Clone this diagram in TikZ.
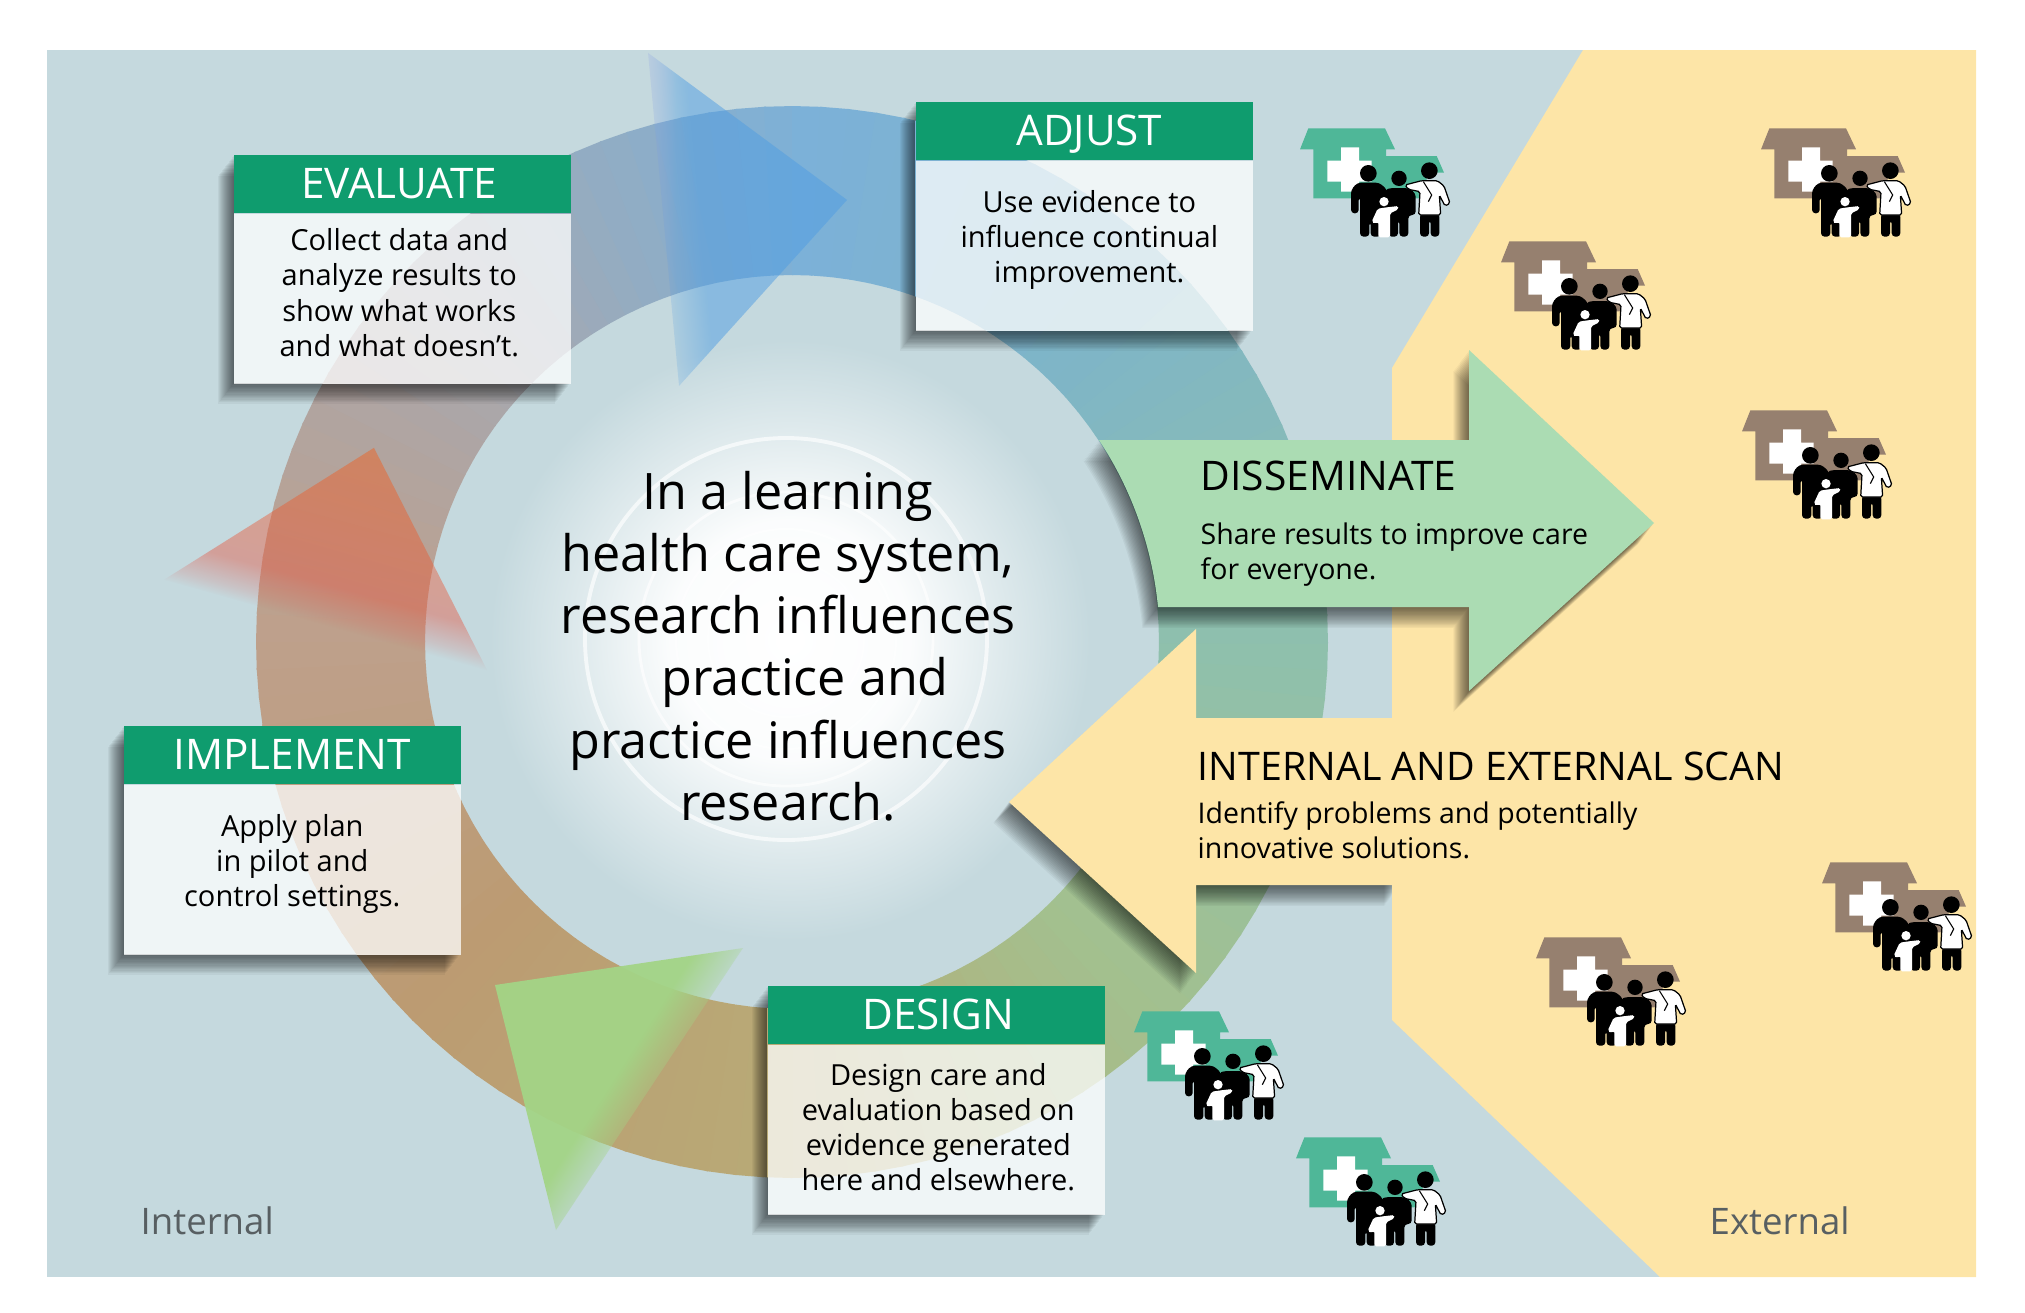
\documentclass[tikz,border=0pt]{standalone}
\usepackage{fontspec}
\setmainfont{Open Sans}
\usetikzlibrary{positioning,fadings}

\definecolor{lhsBack}{HTML}{C5D9DE}
\definecolor{lhsYellow}{HTML}{FDE5A7}
\definecolor{lhsMint}{HTML}{ABDCB3}
\definecolor{lhsHead}{HTML}{0F9C6E}
\definecolor{lhsTeal}{HTML}{4FB798}
\definecolor{lhsBrown}{HTML}{96806F}
\definecolor{lhsGrey}{HTML}{585F62}
\definecolor{lhsBlue}{HTML}{4F9DE2}
\definecolor{lhsPeri}{HTML}{8C9EE6}
\definecolor{lhsOrange}{HTML}{F85A10}
\definecolor{lhsPink}{HTML}{D85060}
\definecolor{lhsLeaf}{HTML}{A3D486}
\definecolor{ringE}{HTML}{8FC0AC}
\definecolor{ringSE}{HTML}{A3C08E}
\definecolor{ringS}{HTML}{B8AA76}
\definecolor{ringSW}{HTML}{BC9B72}
\definecolor{ringW}{HTML}{BEA08C}
\definecolor{ringNW}{HTML}{A6A8B0}
\definecolor{ringN}{HTML}{7CB1D8}
\definecolor{ringNE}{HTML}{7FB5C6}

% soft triangle edges, white is solid and black is clear
\pgfdeclarehorizontalshading{blueEdgeShade}{300bp}{color(0bp)=(black); color(125bp)=(black); color(129bp)=(black!80); color(138bp)=(black!50); color(300bp)=(black!50)}
\pgfdeclarehorizontalshading{orangeEdgeShade}{300bp}{color(0bp)=(black); color(136.5bp)=(black); color(139bp)=(black!85); color(145bp)=(black!57); color(300bp)=(black!57)}
\pgfdeclarehorizontalshading{greenEdgeShade}{300bp}{color(0bp)=(black!5); color(148bp)=(black!5); color(155bp)=(black!65); color(157bp)=(black); color(300bp)=(black)}
\pgfdeclarefading{blueEdge}{\pgfuseshading{blueEdgeShade}}
\pgfdeclarefading{orangeEdge}{\pgfuseshading{orangeEdgeShade}}
\pgfdeclarefading{greenEdge}{\pgfuseshading{greenEdgeShade}}
\pgfdeclarehorizontalshading{lhsBlueTri}{100bp}{color(0bp)=(lhsPeri); color(25bp)=(lhsPeri); color(32bp)=(lhsBlue); color(100bp)=(lhsBlue)}
\pgfdeclareradialshading{lhsGlow}{\pgfpoint{0bp}{0bp}}{color(0bp)=(white); color(10bp)=(white!93!lhsBack); color(17.5bp)=(white!45!lhsBack); color(25bp)=(lhsBack); color(50bp)=(lhsBack)}

\newcommand{\lhsRing}{%
\begin{scope}[shift={(792,642)}]
\foreach \colA/\colB [count=\k from 0] in {ringE/ringSE,ringSE/ringS,ringS/ringSW,ringSW/ringW,ringW/ringNW,ringNW/ringN,ringN/ringNE,ringNE/ringE}{
    \foreach \j in {0,3,...,42}{
        \pgfmathsetmacro{\angA}{\k*45+\j}
        \pgfmathsetmacro{\angB}{\angA+3.2}
        \pgfmathsetmacro{\mixVal}{100-\j*100/45}
        \fill[\colA!\mixVal!\colB] (\angA:536) -- (\angB:536) -- (\angB:367) -- (\angA:367) -- cycle;
    }
}
\end{scope}}

\begin{document}
\begin{tikzpicture}[
    x=0.01cm, y=-0.01cm,
    lhsShadowStep/.style={preaction={fill=black, fill opacity=0.042, transform canvas={xshift=-0.75*#1mm, yshift=-#1mm}}},
    lhsShadow/.style={lhsShadowStep/.list={0.13,0.26,0.39,0.52,0.65,0.78,0.91,1.04,1.17,1.3,1.43,1.56,1.69,1.82,1.95,2.08}},
    lhsBoxBack/.style={anchor=north west, fill=lhsBack, minimum width=3.37cm, minimum height=2.28cm, inner sep=0pt, lhsShadow},
    lhsBoxHead/.style={anchor=north west, fill=lhsHead, text=white, minimum width=3.37cm, minimum height=0.58cm, inner sep=0pt, text height=8.5pt, text depth=0pt, font=\fontsize{12}{14}\selectfont},
    lhsBoxBody/.style={fill=white, fill opacity=0.74, minimum width=3.37cm, minimum height=1.70cm, inner sep=0pt},
    lhsBoxText/.style={inner sep=0pt, align=center, font=\fontsize{8.25}{10}\selectfont},
    lhsTitle/.style={anchor=west, inner sep=0pt, font=\fontsize{11.6}{13}\selectfont},
    lhsText/.style={anchor=west, inner sep=0pt, align=left, font=\fontsize{8.1}{10}\selectfont},
    lhsSide/.style={anchor=west, inner sep=0pt, text=lhsGrey, font=\fontsize{10.4}{12}\selectfont},
    lhsCircle/.style={draw=white, line width=#1},
    pics/careGroup/.style={code={
        \begin{scope}[scale=1/3]
        \fill[#1] (85,55) -- (315,55) -- (345,118) -- (318,118) -- (318,138) -- (470,138) -- (492,188) -- (440,188) -- (440,265) -- (100,265) -- (100,118) -- (60,118) -- cycle;
        \fill[white] (183,112) -- (237,112) -- (237,152) -- (275,152) -- (275,215) -- (237,215) -- (237,245) -- (183,245) -- (183,215) -- (142,215) -- (142,152) -- (183,152) -- cycle;
        % adult on the left
        \fill[black] (265,190) circle[radius=25];
        \fill[black, rounded corners=1pt] (213,310) -- (213,240) -- (232,218) -- (298,218) -- (322,240) -- (322,310) -- (302,310) -- (302,380) -- (272,380) -- (272,335) -- (268,335) -- (268,380) -- (240,380) -- (240,260) -- (236,260) -- (236,310) -- cycle;
        % adult in the middle
        \fill[black] (357,205) circle[radius=23];
        \fill[black, rounded corners=1pt] (315,240) -- (330,234) -- (385,234) -- (407,250) -- (407,315) -- (385,315) -- (385,380) -- (358,380) -- (358,330) -- (354,330) -- (354,380) -- (325,380) -- (325,320) -- (315,320) -- cycle;
        % child
        \fill[white] (312,275) circle[radius=14];
        \fill[white, rounded corners=0.5pt] (293,296) -- (320,292) -- (355,288) -- (355,298) -- (330,310) -- (330,382) -- (295,382) -- (295,335) -- (285,342) -- (275,335) -- cycle;
        % doctor
        \fill[black] (448,182) circle[radius=25];
        \fill[black, rounded corners=1pt] (420,310) -- (478,310) -- (478,380) -- (452,380) -- (452,330) -- (447,330) -- (447,380) -- (420,380) -- cycle;
        \filldraw[fill=white, draw=black, line width=0.35pt, rounded corners=0.5pt] (375,225) -- (425,212) -- (472,212) -- (492,228) -- (510,280) -- (495,288) -- (478,255) -- (482,315) -- (416,315) -- (420,245) -- (385,238) -- cycle;
        \draw[black, line width=0.3pt] (430,215) -- (455,255) -- (445,275);
        \end{scope}
    }}
]
\useasboundingbox (0,0) rectangle (2025,1312);
\fill[lhsBack] (47,50) rectangle (1976,1277);
\lhsRing
\shade[shading=lhsGlow] (790,640) circle[radius=300];
\foreach \r/\w in {201/1.1pt,147/0.8pt,110/0.6pt,78/0.5pt} {
    \draw[lhsCircle=\w, opacity=0.65] (786,639) circle[radius=\r];
}
% the three arrow heads of the cycle
\shade[shading=lhsBlueTri, path fading=blueEdge, fading angle=9] (648,53) -- (847,200) -- (679,386) -- cycle;
\shade[top color=lhsOrange, middle color=lhsOrange, bottom color=lhsPink, shading angle=-16, path fading=orangeEdge, fading angle=68] (374,448) -- (164,580) -- (488,672) -- cycle;
\fill[lhsLeaf, path fading=greenEdge, fading angle=-36] (495,985) -- (743,948) -- (556,1230) -- cycle;
% yellow arrow, its tail runs into the external side
\fill[lhsYellow, lhsShadow] (1009,802) -- (1196,629) -- (1196,718) -- (1400,718) -- (1400,885) -- (1196,885) -- (1196,973) -- cycle;
\fill[lhsYellow] (1583,50) -- (1976,50) -- (1976,1277) -- (1660,1277) -- (1392,1020) -- (1392,368) -- cycle;
\fill[lhsMint, lhsShadow] (1098,440) -- (1469,440) -- (1469,350) -- (1654,523) -- (1469,691) -- (1469,607) -- (1158,607) arc[start angle=5.5, end angle=33.4, radius=3.67cm] -- cycle;
% the four boxes
\foreach \boxName/\boxX/\boxY/\boxNudge/\boxLift/\boxHead/\boxText in {
    evaluate/233/154/-0.03cm/0.065cm/EVALUATE/{Collect data and\\analyze results to\\show what works\\and what doesn’t.},
    adjust/915/101/0.05cm/0.065cm/ADJUST/{Use evidence to\\influence continual\\improvement.},
    implement/123/725/0cm/0.065cm/IMPLEMENT/{Apply plan\\in pilot and\\control settings.},
    design/767/985/0.02cm/0.03cm/DESIGN/{Design care and\\evaluation based on\\evidence generated\\here and elsewhere.}} {
    \node[lhsBoxBack] (\boxName Back) at (\boxX,\boxY) {};
    \begin{scope}
    \clip (\boxName Back.north west) rectangle (\boxName Back.south east);
    \lhsRing
    \end{scope}
    \node[lhsBoxHead] (\boxName Head) at (\boxX,\boxY) {\hspace*{\boxNudge}\boxHead\hspace*{-\boxNudge}};
    \node[lhsBoxBody, below=0pt of \boxName Head] (\boxName Body) {};
    \node[lhsBoxText] (\boxName Text) at ([xshift=\boxNudge, yshift=\boxLift]\boxName Body.center) {\boxText};
}
\node[align=center, inner sep=0pt, font=\fontsize{14.3}{17.7}\selectfont] (message) at (788,646) {In a learning\\health care system,\\research influences\\\hspace*{0.34cm}practice and\\practice influences\\research.};
\node[lhsTitle] (disseminateTitle) at (1200,476) {DISSEMINATE};
\node[lhsText] (disseminateText) at (1200,555) {Share results to improve care\\for everyone.};
\node[lhsTitle, font=\fontsize{11.2}{13}\selectfont] (scanTitle) at (1197,766) {INTERNAL AND EXTERNAL SCAN};
\node[lhsText] (scanText) at (1197,830) {Identify problems and potentially\\innovative solutions.};
\node[lhsSide] (internalLabel) at (140,1221) {Internal};
\node[lhsSide] (externalLabel) at (1709,1221) {External};
% houses with their families
\foreach \px/\py/\pc in {1280/110/lhsTeal,1741/110/lhsBrown,1481/223/lhsBrown,1722/392/lhsBrown,1802/844/lhsBrown,1516/919/lhsBrown,1114/993/lhsTeal,1276/1119/lhsTeal} {
    \pic at (\px,\py) {careGroup=\pc};
}
\end{tikzpicture}
\end{document}
